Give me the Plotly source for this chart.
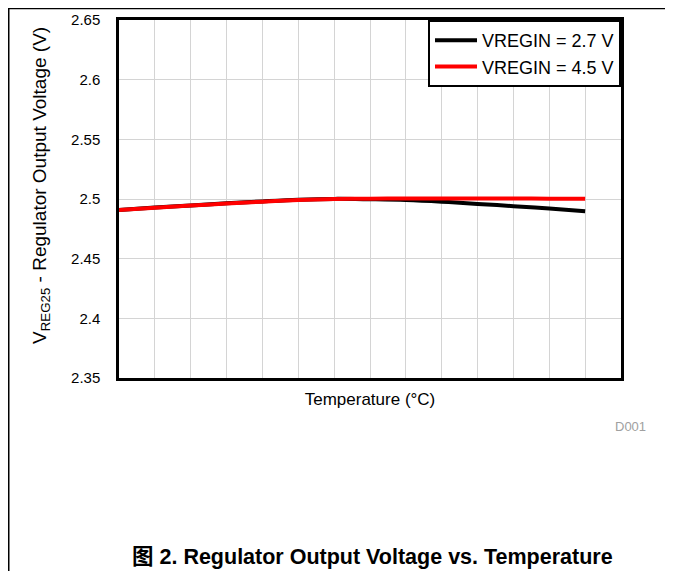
import plotly.graph_objects as go

temperature = [-40, -30, -20, -10, 0, 10, 20, 30, 40, 50, 60, 70, 80, 90]
vreg_27 = [2.4908, 2.4928, 2.4946, 2.4964, 2.4980, 2.4994, 2.5001, 2.4998, 2.4992, 2.4978, 2.4959, 2.4940, 2.4920, 2.4898]
vreg_45 = [2.4908, 2.4927, 2.4945, 2.4962, 2.4978, 2.4991, 2.4999, 2.5003, 2.5005, 2.5005, 2.5005, 2.5004, 2.5003, 2.5002]
series_names = ["VREGIN = 2.7 V", "VREGIN = 4.5 V"]
series_colors = ["#000000", "#ff0000"]
y_ticks = [2.35, 2.4, 2.45, 2.5, 2.55, 2.6, 2.65]
y_ticktext = ["2.35", "2.4", "2.45", "2.5", "2.55", "2.6", "2.65"]

FONT = "Liberation Sans, Arial, sans-serif"

fig = go.Figure()
for name, vals, col in zip(series_names, [vreg_27, vreg_45], series_colors):
    fig.add_trace(go.Scatter(x=temperature, y=vals, mode="lines", name=name,
                             line=dict(color=col, width=4, shape="spline")))

OFF = 8  # page body margin
W, H = 673 - OFF, 571 - OFF
L, T = 119 - OFF, 20 - OFF
R = W - (621 - OFF)
B = H - (378 - OFF)
pw, ph = W - L - R, H - T - B

def px(p):
    return (p - OFF - L) / pw

def py(q):
    return (H - B - (q - OFF)) / ph

fig.update_layout(
    width=W, height=H,
    margin=dict(l=L, r=R, t=T, b=B, pad=0, autoexpand=False),
    paper_bgcolor="white", plot_bgcolor="white",
    font=dict(family=FONT, size=16, color="#000000"),
    showlegend=True,
    legend=dict(x=1, xanchor="right", y=1, yanchor="top",
                bordercolor="#000000", borderwidth=2, bgcolor="white",
                font=dict(size=18, family=FONT), tracegroupgap=0, itemwidth=42),
    xaxis=dict(range=[-40, 100], dtick=10, tick0=-40, showticklabels=False,
               showgrid=True, gridcolor="#d4d4d4", gridwidth=1, automargin=False,
               showline=True, linecolor="#000000", linewidth=2.5, mirror=True,
               zeroline=False, ticks="",
               title=dict(text="Temperature (°C)", font=dict(size=17), standoff=14)),
    yaxis=dict(range=[2.35, 2.65], tickvals=y_ticks, ticktext=y_ticktext,
               showgrid=True, gridcolor="#d4d4d4", gridwidth=1, automargin=False,
               showline=True, linecolor="#000000", linewidth=2.5, mirror=True,
               zeroline=False, ticks="", ticklabelstandoff=13,
               tickfont=dict(size=15)),
    shapes=[
        dict(type="line", xref="paper", yref="paper", x0=px(8), x1=px(673), y0=py(8.6), y1=py(8.6),
             line=dict(color="#000000", width=1.5)),
        dict(type="line", xref="paper", yref="paper", x0=px(8.75), x1=px(8.75), y0=py(8), y1=py(571),
             line=dict(color="#000000", width=1.5)),
    ],
    annotations=[
        dict(text="V<sub>REG25</sub> - Regulator Output Voltage (V)", xref="paper", yref="paper",
             x=px(41), y=py(186), xanchor="center", yanchor="middle", textangle=-90,
             showarrow=False, font=dict(size=19, color="#000000", family=FONT)),
        dict(text="D001", xref="paper", yref="paper", x=px(648), y=py(427),
             xanchor="right", yanchor="middle", showarrow=False,
             font=dict(size=13, color="#a0a0a0", family=FONT)),
        dict(text="<b>图 2. Regulator Output Voltage vs. Temperature</b>", xref="paper", yref="paper",
             x=px(372), y=py(557), xanchor="center", yanchor="middle", showarrow=False,
             font=dict(size=21.5, color="#000000", family="Liberation Sans, Noto Sans CJK SC, sans-serif")),
    ],
)

fig.write_html("out.html")
